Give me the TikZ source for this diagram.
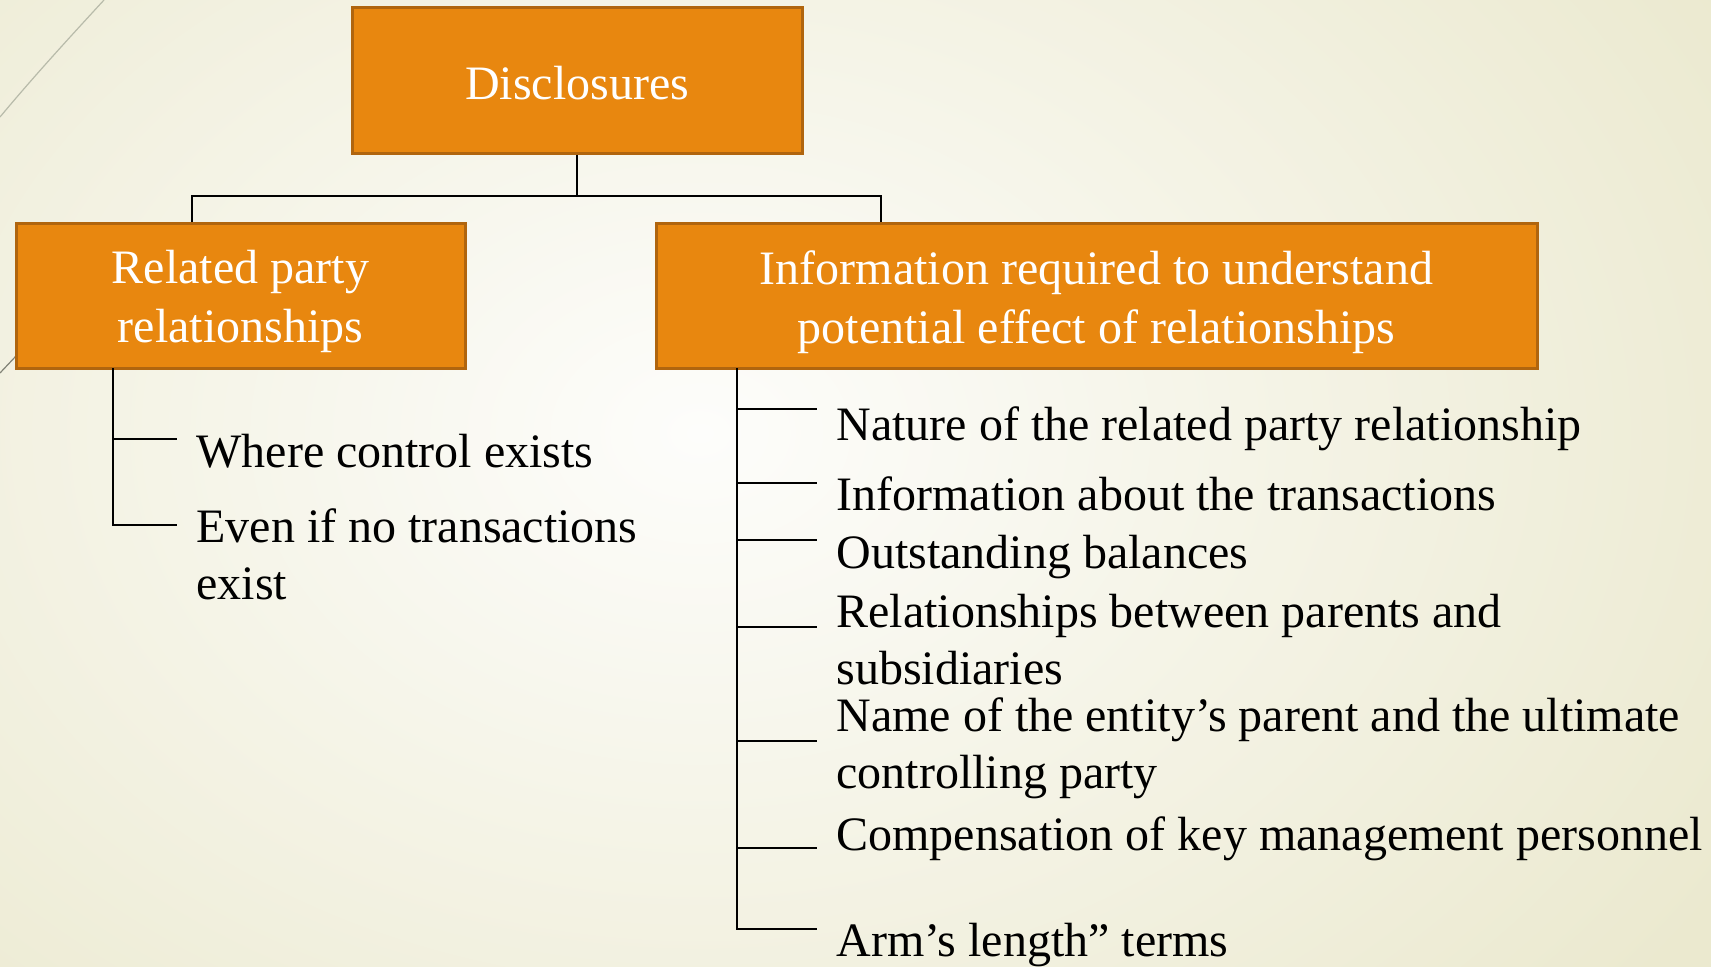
\documentclass[tikz,border=0pt]{standalone}
\usepackage{fontspec}
\setmainfont{Liberation Serif}
\definecolor{boxfill}{HTML}{E8870F}
\definecolor{boxedge}{HTML}{B0650E}
\definecolor{bgout}{HTML}{EBE9CF}
\definecolor{bgin}{HTML}{FDFDFB}
\definecolor{deco}{HTML}{B8BBAA}
\begin{document}
\begin{tikzpicture}[x=0.5pt,y=-0.5pt,
  orangebox/.style={draw=boxedge,line width=1.5pt,fill=boxfill,inner sep=0pt},
  boxtext/.style={text=white,align=center,inner sep=0pt,
    font=\fontsize{24}{29.5}\selectfont},
  item/.style={anchor=west,align=left,inner sep=0pt,
    font=\fontsize{24}{28.5}\selectfont},
  link/.style={line width=1pt,black}]
% page and background
\useasboundingbox (0,0) rectangle (1711,966);
\shade[inner color=bgin,outer color=bgout] (-500,-450) rectangle (1900,1316);
\draw[deco,line width=0.6pt] (0,117) .. controls (35,75) and (70,37) .. (104,0);
\draw[deco!70!black,line width=0.6pt] (0,373) -- (16,356);
% boxes
\node[orangebox,minimum width=225pt,minimum height=73pt,
  label={[boxtext,yshift=-1.6pt]center:Disclosures}] (disc) at (577,80) {};
\node[orangebox,minimum width=224.5pt,minimum height=72.5pt,
  label={[boxtext,yshift=-3.2pt]center:{Related party\\relationships}}] (rel) at (240.5,295.5) {};
\node[orangebox,minimum width=440.5pt,minimum height=72.5pt,
  label={[boxtext,yshift=-3.2pt]center:{Information required to understand\\potential effect of relationships}}] (info) at (1096.5,295.5) {};
% top-level connectors
\coordinate (bus) at (577,196);
\coordinate (busL) at (192,196);
\coordinate (busR) at (881,196);
\draw[link] (disc.south) -- (bus);
\draw[link] (busL |- rel.north) -- (busL) -- (busR) -- (busR |- info.north);
% left branch items
\node[item] (w1) at (196,451) {Where control exists};
\node[item] (w2) at (196,554) {Even if no transactions\\exist};
\coordinate (lt) at (113,368);
\coordinate (l1) at (177,439);
\coordinate (l2) at (177,525);
\draw[link] (lt) -- (lt |- l2) -- (l2);
\draw[link] (lt |- l1) -- (l1);
% right branch items
\node[item] (r1) at (836,428.5) {Nature of the related party relationship};
\node[item] (r2) at (836,494) {Information about the transactions};
\node[item] (r3) at (836,557.5) {Outstanding balances};
\node[item] (r4) at (836,639.5) {Relationships between parents and\\subsidiaries};
\node[item] (r5) at (836,748) {Name of the entity’s parent and the ultimate\\controlling party};
\node[item] (r6) at (836,838.5) {Compensation of key management personnel};
\node[item] (r7) at (836,945.5) {Arm’s length” terms};
\coordinate (rt) at (737,368);
\coordinate (b1) at (817,409);
\coordinate (b2) at (817,483);
\coordinate (b3) at (817,540);
\coordinate (b4) at (817,627);
\coordinate (b5) at (817,741);
\coordinate (b6) at (817,848);
\coordinate (b7) at (817,929);
\draw[link] (rt) -- (rt |- b7) -- (b7);
\foreach \b in {b1,b2,b3,b4,b5,b6} \draw[link] (rt |- \b) -- (\b);
\end{tikzpicture}
\end{document}
